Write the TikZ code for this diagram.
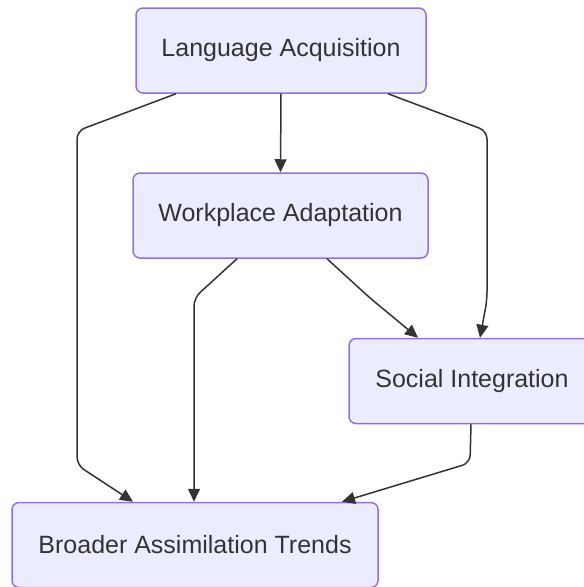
\documentclass[tikz,border=0pt]{standalone}
\usepackage{fontspec}
\setmainfont{Liberation Sans}
\usetikzlibrary{arrows.meta}
\definecolor{nodefill}{HTML}{ECECFF}
\definecolor{nodeborder}{HTML}{9370DB}
\definecolor{ink}{HTML}{333333}
\begin{document}
\begin{tikzpicture}[x=1pt,y=-1pt,
  box/.style={draw=nodeborder, fill=nodefill, line width=1.5pt, rounded corners=7pt,
    minimum height=85pt, inner sep=0pt, text=ink, font=\fontsize{25}{30}\selectfont},
  edge/.style={draw=ink, line width=1.5pt, rounded corners=8pt,
    -{Triangle[length=13pt,width=12pt]}}]
\useasboundingbox (0,0) rectangle (584,587);
\fill[white] (0,0) rectangle (584,587);
\node[box, minimum width=290pt] (la) at (281,50.5) {Language Acquisition};
\node[box, minimum width=295pt] (wa) at (280.5,215.5) {Workplace Adaptation};
\node[box, minimum width=246pt] (si) at (472,381) {Social Integration};
\node[box, minimum width=366pt] (bat) at (195,545) {Broader Assimilation Trends};
\coordinate (b1) at (77,131);
\coordinate (b2) at (77,465);
\coordinate (c1) at (487,131);
\coordinate (c2) at (487,300);
\coordinate (d1) at (194,298);
\coordinate (e1) at (370,298);
\coordinate (f1) at (470,463);
\draw[edge] (la.south) -- (wa.north);
\draw[edge] ([xshift=-105pt]la.south) -- (b1) -- (b2) -- ([xshift=-62pt]bat.north);
\draw[edge] ([xshift=107pt]la.south) -- (c1) -- (c2) -- ([xshift=8pt]si.north);
\draw[edge] ([xshift=-43.5pt]wa.south) -- (d1) -- (d1 |- bat.north);
\draw[edge] ([xshift=46.5pt]wa.south) -- (e1) -- ([xshift=-54pt]si.north);
\draw[edge] ([xshift=-1pt]si.south) -- (f1) -- ([xshift=147pt]bat.north);
\end{tikzpicture}
\end{document}
